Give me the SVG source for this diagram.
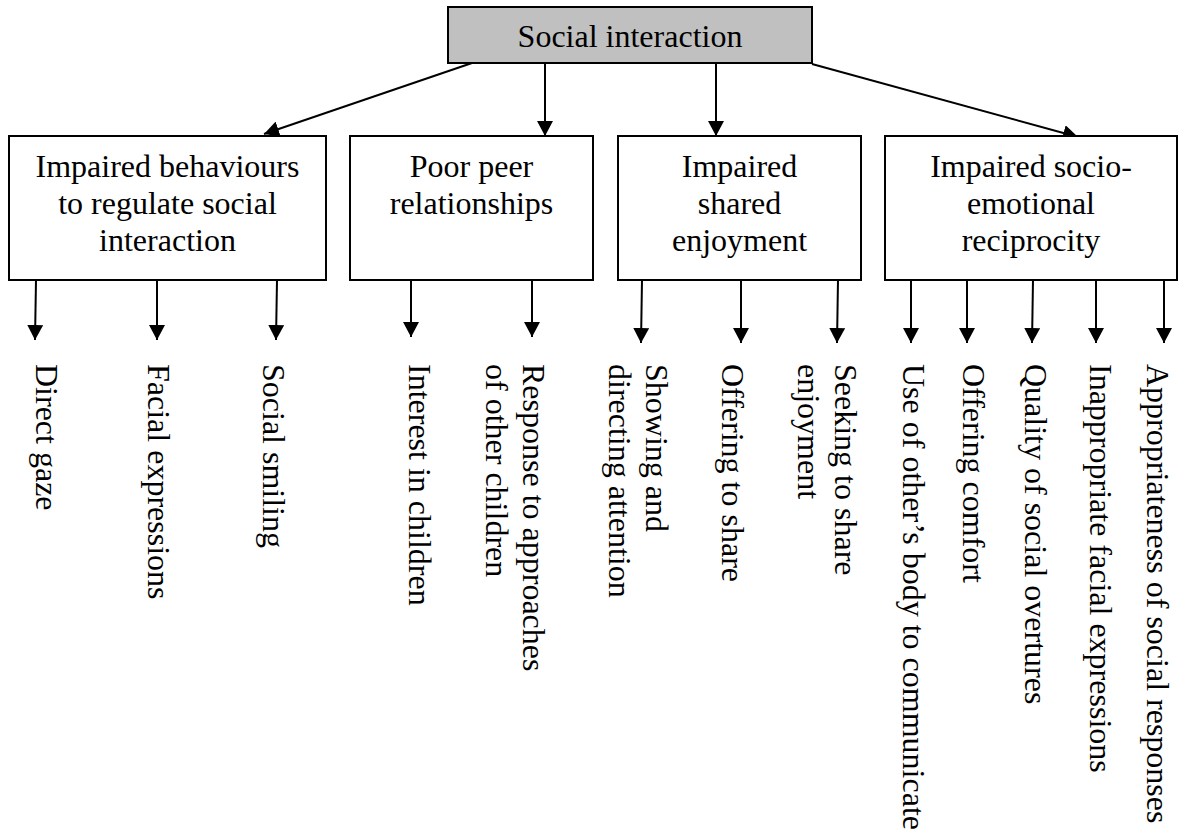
<svg xmlns="http://www.w3.org/2000/svg" width="1183" height="833" viewBox="0 0 1183 833">
<style>
.box{fill:#fff;stroke:#000;stroke-width:2}
.top{fill:#c0c0c0;stroke:#000;stroke-width:2}
.t{font-family:"Liberation Serif","Times New Roman",serif;font-size:32px;fill:#000}
.c{text-anchor:middle}
.ln{stroke:#000;stroke-width:2;fill:none;marker-end:url(#ah)}
</style>
<defs>
<marker id="ah" markerUnits="userSpaceOnUse" viewBox="0 0 15 16" refX="15" refY="8" markerWidth="15" markerHeight="16" orient="auto">
<path d="M0,0 L15,8 L0,16 Z" fill="#000"/>
</marker>
</defs>
<rect width="1183" height="833" fill="#fff"/>
<g id="connectors">
<line class="ln" x1="472" y1="63" x2="264" y2="134"/>
<line class="ln" x1="545" y1="63" x2="545" y2="136"/>
<line class="ln" x1="716" y1="63" x2="716" y2="136"/>
<line class="ln" x1="812" y1="64" x2="1078" y2="137"/>
<line class="ln" x1="36" y1="280" x2="35" y2="340"/>
<line class="ln" x1="157" y1="280" x2="157" y2="340"/>
<line class="ln" x1="277" y1="280" x2="276" y2="340"/>
<line class="ln" x1="411" y1="280" x2="411" y2="337"/>
<line class="ln" x1="532" y1="280" x2="532" y2="337"/>
<line class="ln" x1="642" y1="280" x2="641" y2="343"/>
<line class="ln" x1="741" y1="280" x2="741" y2="343"/>
<line class="ln" x1="838" y1="280" x2="837" y2="343"/>
<line class="ln" x1="911" y1="280" x2="911" y2="343"/>
<line class="ln" x1="967" y1="280" x2="967" y2="343"/>
<line class="ln" x1="1033" y1="280" x2="1032" y2="343"/>
<line class="ln" x1="1096" y1="280" x2="1096" y2="343"/>
<line class="ln" x1="1164" y1="280" x2="1164" y2="343"/>
</g>
<g id="root">
<rect class="top" x="448" y="7" width="364" height="56"/>
<text class="t c" x="630" y="47">Social interaction</text>
</g>
<g id="box1">
<rect class="box" x="9" y="136" width="317" height="144"/>
<text class="t c" x="167.5" y="177">Impaired behaviours<tspan x="167.5" dy="37">to regulate social</tspan><tspan x="167.5" dy="37">interaction</tspan></text>
</g>
<g id="box2">
<rect class="box" x="350" y="136" width="243" height="144"/>
<text class="t c" x="471.5" y="177">Poor peer<tspan x="471.5" dy="37">relationships</tspan></text>
</g>
<g id="box3">
<rect class="box" x="618" y="136" width="243" height="144"/>
<text class="t c" x="739.5" y="177">Impaired<tspan x="739.5" dy="37">shared</tspan><tspan x="739.5" dy="37">enjoyment</tspan></text>
</g>
<g id="box4">
<rect class="box" x="885" y="136" width="292" height="144"/>
<text class="t c" x="1031" y="177">Impaired socio-<tspan x="1031" dy="37">emotional</tspan><tspan x="1031" dy="37">reciprocity</tspan></text>
</g>
<g id="leaf-direct-gaze"><text class="t" transform="translate(36,364) rotate(90)">Direct gaze</text></g>
<g id="leaf-facial"><text class="t" transform="translate(148,364) rotate(90)">Facial expressions</text></g>
<g id="leaf-smiling"><text class="t" transform="translate(263,364) rotate(90)">Social smiling</text></g>
<g id="leaf-interest"><text class="t" transform="translate(409,364) rotate(90)">Interest in children</text></g>
<g id="leaf-response"><text class="t" transform="translate(523,364) rotate(90)">Response to approaches<tspan x="0" dy="37">of other children</tspan></text></g>
<g id="leaf-showing"><text class="t" transform="translate(646,364) rotate(90)">Showing and<tspan x="0" dy="37">directing attention</tspan></text></g>
<g id="leaf-offering-share"><text class="t" transform="translate(722,364) rotate(90)">Offering to share</text></g>
<g id="leaf-seeking"><text class="t" transform="translate(835,364) rotate(90)">Seeking to share<tspan x="0" dy="37">enjoyment</tspan></text></g>
<g id="leaf-use"><text class="t" transform="translate(903,364) rotate(90)">Use of other’s body to communicate</text></g>
<g id="leaf-comfort"><text class="t" transform="translate(963,364) rotate(90)">Offering comfort</text></g>
<g id="leaf-quality"><text class="t" transform="translate(1025,364) rotate(90)">Quality of social overtures</text></g>
<g id="leaf-inappropriate"><text class="t" transform="translate(1090,364) rotate(90)">Inappropriate facial expressions</text></g>
<g id="leaf-appropriateness"><text class="t" transform="translate(1147,364) rotate(90)">Appropriateness of social responses</text></g>
</svg>
